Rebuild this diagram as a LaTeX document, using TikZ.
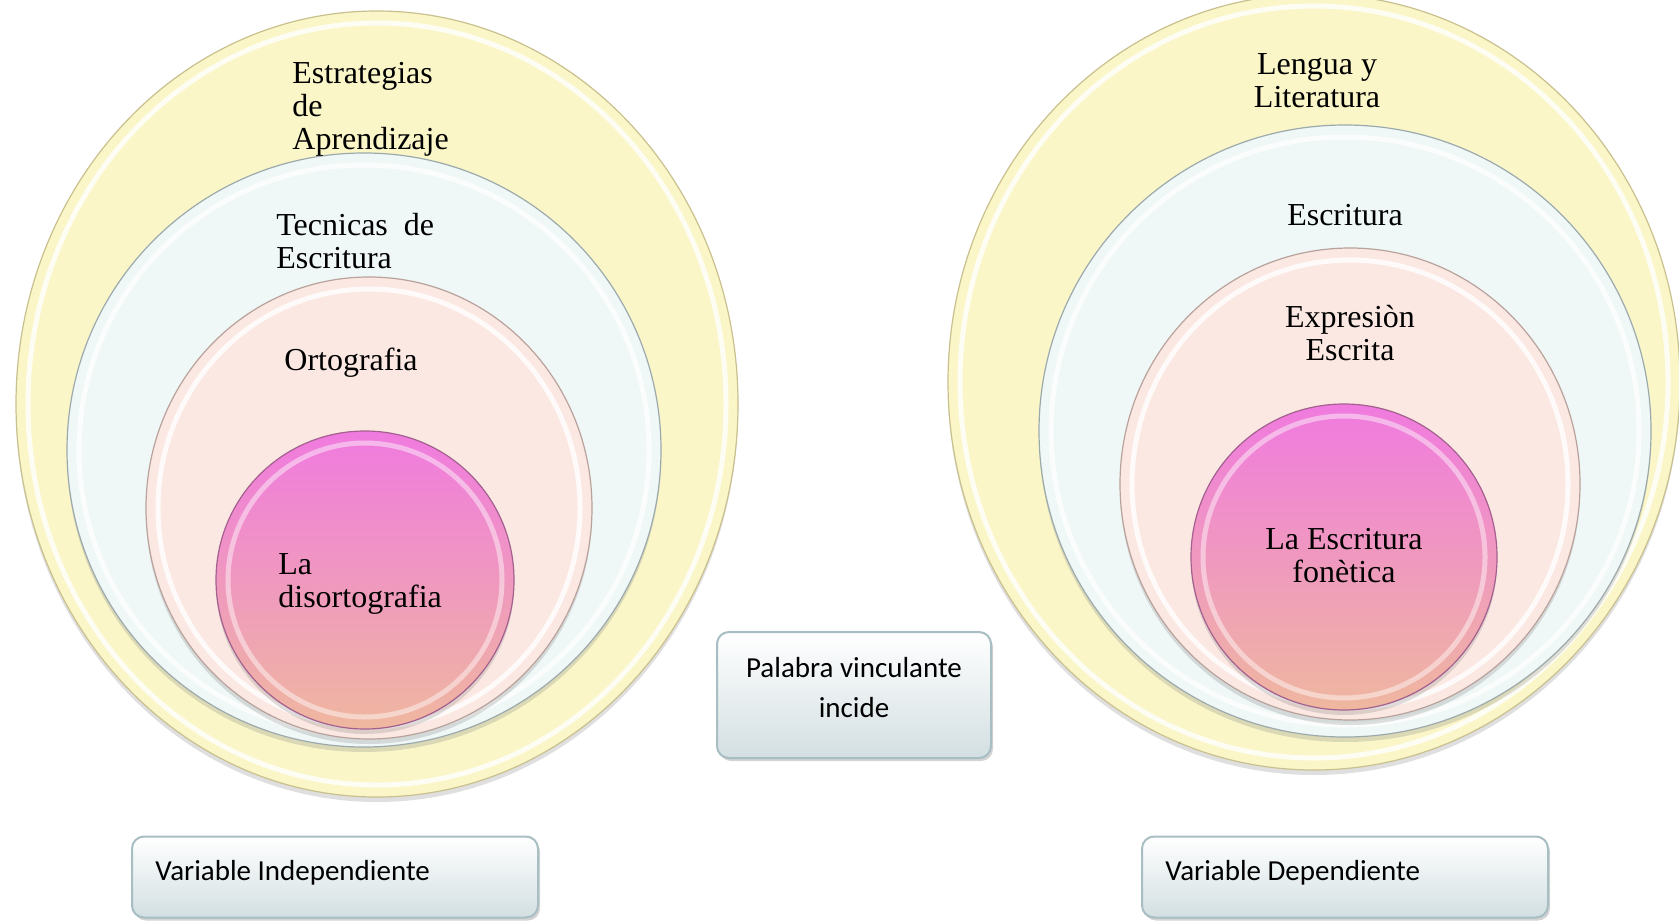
\documentclass[tikz,border=0pt]{standalone}
\usepackage{fontspec}
\setmainfont{Liberation Serif}
\newfontfamily\boxfont{Carlito}
\usetikzlibrary{shapes.geometric,shadows,calc}

\definecolor{yelfill}{HTML}{FAF6C8}
\definecolor{yelline}{HTML}{C9C08E}
\definecolor{blufill}{HTML}{EFF7F7}
\definecolor{bluline}{HTML}{9DAAAC}
\definecolor{pchfill}{HTML}{FBE8E2}
\definecolor{pchline}{HTML}{B9A29C}
\definecolor{magtop}{HTML}{F07ADF}
\definecolor{magmid}{HTML}{EC92C6}
\definecolor{magbot}{HTML}{EFB79F}
\definecolor{magline}{HTML}{A4608F}
\definecolor{boxfill}{HTML}{D3DFE2}
\definecolor{boxline}{HTML}{A7BEC2}

\begin{document}
\begin{tikzpicture}[x=0.5pt, y=-0.5pt,
  ring/.store in=\ringop, ring=.8,
  bubble/.style={ellipse, draw=#1, line width=0.6pt, inner sep=0pt,
    drop shadow={shadow xshift=0pt, shadow yshift=-2.5pt, opacity=.25},
    path picture={\draw[white, line width=2.5pt, opacity=\ringop]
      let \p1=($(path picture bounding box.north east)-(path picture bounding box.center)$) in
      (path picture bounding box.center) ellipse [x radius=\x1-6pt, y radius=\y1-6pt];}},
  lbl/.style={font=\fontsize{16}{16.5}\selectfont, inner sep=0pt},
  tag/.style={rectangle, rounded corners=6pt, draw=boxline, line width=1pt,
    top color=white, bottom color=boxfill,
    drop shadow={shadow xshift=1pt, shadow yshift=-1.5pt, opacity=.35}},
  tagtxt/.style={font=\boxfont\fontsize{14.5}{20}\selectfont, inner sep=0pt}]

  \useasboundingbox (0,0) rectangle (1679,920);

  % independent variable
  \node[bubble=yelline, fill=yelfill, minimum width=361pt, minimum height=393pt] (estr) at (377,404) {};
  \node[bubble=bluline, fill=blufill, minimum width=297pt, minimum height=297pt] (tecn) at (364,450) {};
  \node[bubble=pchline, fill=pchfill, minimum width=223pt, minimum height=231pt] (orto) at (369,508) {};
  \node[bubble=magline, ring=.45, top color=magtop, middle color=magmid, bottom color=magbot, minimum size=149pt] (diso) at (365,580) {};

  \node[lbl, anchor=west, align=left] (estrT) at (292,109) {Estrategias\\de\\Aprendizaje};
  \node[lbl, anchor=west, align=left] (tecnT) at (276,241) {Tecnicas~~de\\Escritura};
  \node[lbl, anchor=west] (ortoT) at (284,363) {Ortografia};
  \node[lbl, anchor=west, align=left] (disoT) at (278,584) {La\\disortografia};

  % dependent variable
  \node[bubble=yelline, fill=yelfill, minimum width=366pt, minimum height=388pt] (leng) at (1314,382) {};
  \node[bubble=bluline, fill=blufill, minimum width=306pt, minimum height=306pt] (escr) at (1345,431) {};
  \node[bubble=pchline, fill=pchfill, minimum width=230pt, minimum height=236pt] (expr) at (1350,484) {};
  \node[bubble=magline, ring=.45, top color=magtop, middle color=magmid, bottom color=magbot, minimum size=153pt] (fone) at (1344,557) {};

  \node[lbl, align=center] (lengT) at (1317,81) {Lengua y\\Literatura};
  \node[lbl] (escrT) at (1345,215) {Escritura};
  \node[lbl, align=center] (exprT) at (1350,333) {Expresiòn\\Escrita};
  \node[lbl, align=center] (foneT) at (1344,556) {La Escritura\\fonètica};

  % boxes
  \node[tag, minimum width=137pt, minimum height=63pt] (link) at (854,695) {};
  \node[tagtxt, align=center] (linkT) at ($(link.center)+(0,-7)$) {Palabra vinculante\\incide};
  \node[tag, minimum width=203pt, minimum height=40.5pt] (indep) at (335,877) {};
  \node[tagtxt, anchor=west] (indepT) at ($(indep.west)+(24,-4)$) {Variable Independiente};
  \node[tag, minimum width=203pt, minimum height=40.5pt] (dep) at (1345,877) {};
  \node[tagtxt, anchor=west] (depT) at ($(dep.west)+(24,-4)$) {Variable Dependiente};
\end{tikzpicture}
\end{document}
